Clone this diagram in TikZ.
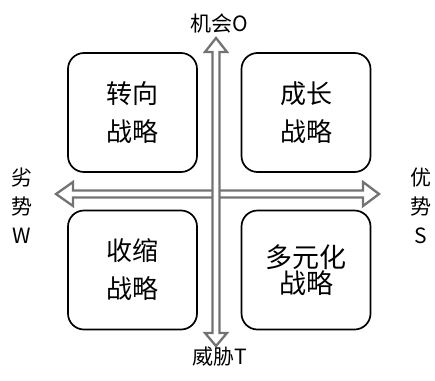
\documentclass[tikz,border=0pt]{standalone}
\usepackage{fontspec}
\setmainfont{Noto Sans CJK SC}
\begin{document}
\begin{tikzpicture}[x=1pt,y=-1pt,
  quad/.style={draw=black,line width=1.7pt,rounded corners=16pt,minimum width=129pt,minimum height=119pt,align=center,inner sep=0pt},
  boxtext/.style={font=\fontsize{26}{38}\selectfont},
  axis/.style={draw=black!55,fill=white,line width=2.3pt,line join=miter},
  lab/.style={font=\fontsize{21}{26}\selectfont,inner sep=0pt,align=center}]
\useasboundingbox (0,0) rectangle (435,380);
% horizontal double arrow
\coordinate (hl) at (56,194);
\coordinate (hr) at (379,194);
\draw[axis] (hl) -- (73,182) -- (73,190.5) -- (363,190.5) -- (363,182) -- (hr)
  -- (363,206) -- (363,197.5) -- (73,197.5) -- (73,206) -- cycle;
% vertical double arrow
\coordinate (vt) at (216,38);
\coordinate (vb) at (216,346);
\draw[axis] (vt) -- (227,52) -- (219.5,52) -- (219.5,333) -- (227,333) -- (vb)
  -- (205,333) -- (212.5,333) -- (212.5,52) -- (205,52) -- cycle;
% quadrant boxes
\node[quad,boxtext] (tl) at (132.5,112.5) {转向\\战略};
\node[quad,boxtext] (tr) at (306,112.5) {成长\\战略};
\node[quad,boxtext] (bl) at (132.5,270) {收缩\\战略};
\node[quad,font=\fontsize{27}{25}\selectfont] (br) at (306,270) {多元化\\战略};
% labels
\node[lab] (o) at (219,24) {机会O};
\node[lab] (t) at (220,357) {威胁T};
\node[lab,font=\fontsize{21}{29}\selectfont] (w) at (22,206) {劣\\势\\W};
\node[lab,font=\fontsize{21}{29}\selectfont] (s) at (421,206) {优\\势\\S};
\end{tikzpicture}
\end{document}
